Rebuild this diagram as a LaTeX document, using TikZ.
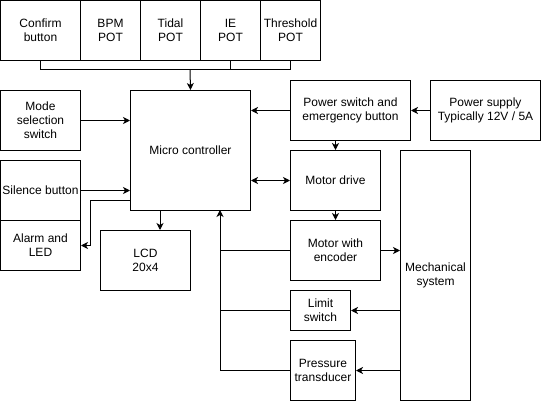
\documentclass[tikz,border=0pt]{standalone}
\usepackage{fontspec}
\setmainfont{Liberation Sans}
\usetikzlibrary{arrows.meta}
\begin{document}
\begin{tikzpicture}[x=1pt,y=-1pt,
  box/.style={draw,line width=1pt,anchor=north west,inner sep=1pt,align=center,font=\fontsize{12}{14}\selectfont},
  wire/.style={line width=1pt},
  arr/.style={wire,-{Stealth[length=7pt,width=7pt,inset=2pt]}},
  darr/.style={wire,{Stealth[length=7pt,width=7pt,inset=2pt]}-{Stealth[length=7pt,width=7pt,inset=2pt]}}]
\useasboundingbox (0,0) rectangle (541,401);
% top row
\node[box,minimum width=80,minimum height=60] (confirm) at (0,0) {Confirm\\button};
\node[box,minimum width=60,minimum height=60] (bpm) at (80,0) {BPM\\POT};
\node[box,minimum width=60,minimum height=60] (tidal) at (140,0) {Tidal\\POT};
\node[box,minimum width=60,minimum height=60] (ie) at (200,0) {IE\\POT};
\node[box,minimum width=60,minimum height=60] (thresh) at (260,0) {Threshold\\POT};
% left column
\node[box,minimum width=80,minimum height=60] (mode) at (0,90) {Mode\\selection\\switch};
\node[box,minimum width=80,minimum height=60] (sil) at (0,160) {Silence button};
\node[box,minimum width=80,minimum height=50] (alarm) at (0,220) {Alarm and\\LED};
% centre
\node[box,minimum width=120,minimum height=120] (mc) at (130,90) {Micro controller};
\node[box,minimum width=90,minimum height=60] (lcd) at (100,230) {LCD\\20x4};
% right
\node[box,minimum width=120,minimum height=60] (psw) at (290,80) {Power switch and\\emergency button};
\node[box,minimum width=110,minimum height=60] (ps) at (430,80) {Power supply\\Typically 12V / 5A};
\node[box,minimum width=90,minimum height=60] (md) at (290,150) {Motor drive};
\node[box,minimum width=90,minimum height=60] (enc) at (290,220) {Motor with\\encoder};
\node[box,minimum width=60,minimum height=40] (limit) at (290,290) {Limit\\switch};
\node[box,minimum width=65,minimum height=60] (pt) at (290,340) {Pressure\\transducer};
\node[box,minimum width=70,minimum height=250] (mech) at (400,150) {Mechanical\\system};
% coordinates
\coordinate (bus) at (190,70);
\coordinate (fbtop) at (220,210);
\coordinate (lcdin) at (160,230);
\coordinate (alout) at (130,200);
% bus
\draw[wire] (confirm.south) -- (confirm.south |- bus) -- (thresh.south |- bus) -- (thresh.south);
\draw[wire] (ie.south) -- (ie.south |- bus);
\draw[arr] (bus) -- (mc.north);
% left
\draw[arr] (mode.east) -- (mc.west |- mode.east);
\draw[arr] (sil.east) -- (mc.west |- sil.east);
\draw[arr] (alout) -- ++(-40,0) |- (alarm.east);
\draw[arr] (lcdin |- mc.south) -- (lcdin);
% right
\draw[arr] (ps.west) -- (psw.east);
\draw[arr] (psw.west) -- (mc.east |- psw.west);
\draw[arr] (md.north |- psw.south) -- (md.north);
\draw[darr] (mc.east |- md.west) -- (md.west);
\draw[arr] (md.south) -- (enc.north);
\draw[arr] (enc.east) -- (mech.west |- enc.east);
\draw[arr] (mech.west |- limit.east) -- (limit.east);
\draw[arr] (mech.west |- pt.east) -- (pt.east);
% feedback
\draw[arr] (pt.west) -| (fbtop);
\draw[wire] (enc.west) -- (enc.west -| fbtop);
\draw[wire] (limit.west) -- (limit.west -| fbtop);
\end{tikzpicture}
\end{document}
